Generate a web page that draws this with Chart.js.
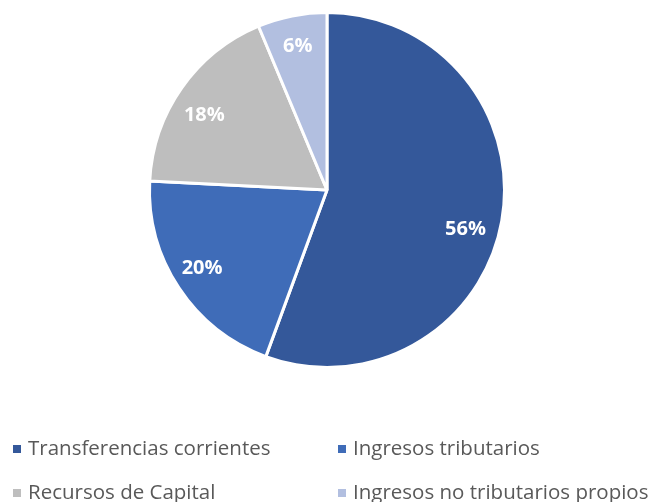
<!DOCTYPE html>
<html>
<head>
<meta charset="utf-8">
<script src="https://cdn.jsdelivr.net/npm/chart.js@4/dist/chart.umd.min.js"></script>
<style>
  html, body { margin: 0; padding: 0; background: #ffffff; }
  #wrap { position: relative; width: 655px; height: 502px; overflow: hidden; }
</style>
</head>
<body>
<div id="wrap"><canvas id="c" width="655" height="502"></canvas></div>
<script>
// Composition of income (share of total, %)
const categories = [
  'Transferencias corrientes',
  'Ingresos tributarios',
  'Recursos de Capital',
  'Ingresos no tributarios propios'
];
const shares = [55.6, 20.2, 17.9, 6.3];
const sliceColors = ['#34589A', '#3F6CB8', '#BEBEBE', '#B2BFE0'];

// Legend grid: two columns, two rows
const legendCols = [13, 338];
const legendRows = [449, 493];
// Small nudges (px) applied to each percentage label after placing it on the slice bisector
const labelNudge = [[-3, 14], [-5, -1], [-5, 8], [-1, -3]];

const sliceLabels = {
  id: 'sliceLabels',
  afterDatasetsDraw(chart) {
    const ctx = chart.ctx;
    const meta = chart.getDatasetMeta(0);
    const total = shares.reduce((a, b) => a + b, 0);
    ctx.save();
    ctx.fillStyle = '#ffffff';
    ctx.font = 'bold 20px "Open Sans", sans-serif';
    ctx.textAlign = 'center';
    ctx.textBaseline = 'middle';
    meta.data.forEach((arc, i) => {
      const p = arc.getProps(['x', 'y', 'startAngle', 'endAngle', 'outerRadius'], true);
      const mid = (p.startAngle + p.endAngle) / 2;
      const r = p.outerRadius * 0.81;
      const txt = Math.round(shares[i] / total * 100) + '%';
      ctx.fillText(txt, p.x + Math.cos(mid) * r + labelNudge[i][0], p.y + Math.sin(mid) * r + labelNudge[i][1]);
    });
    ctx.restore();
  }
};

const gridLegend = {
  id: 'gridLegend',
  afterDraw(chart) {
    const ctx = chart.ctx;
    ctx.save();
    ctx.font = '20.5px "Open Sans", sans-serif';
    ctx.textBaseline = 'middle';
    ctx.textAlign = 'left';
    categories.forEach((name, i) => {
      const x = legendCols[i % 2];
      const y = legendRows[Math.floor(i / 2)];
      ctx.fillStyle = sliceColors[i];
      ctx.fillRect(x, y - 4, 8, 8);
      ctx.fillStyle = '#595959';
      ctx.fillText(name, x + 15, y);
    });
    ctx.restore();
  }
};

new Chart(document.getElementById('c'), {
  type: 'pie',
  data: {
    labels: categories,
    datasets: [{
      data: shares,
      backgroundColor: sliceColors,
      borderColor: '#ffffff',
      borderWidth: 3
    }]
  },
  options: {
    responsive: false,
    animation: false,
    layout: { padding: { top: 11, bottom: 133, left: 148, right: 149 } },
    plugins: {
      legend: { display: false },
      tooltip: { enabled: false }
    }
  },
  plugins: [sliceLabels, gridLegend]
});
</script>
</body>
</html>
